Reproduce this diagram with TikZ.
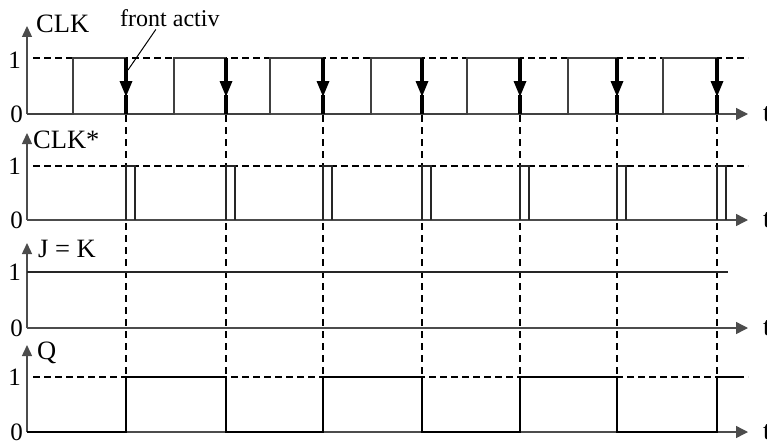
\documentclass[tikz,border=0pt]{standalone}
\usepackage{fontspec}
\setmainfont{Liberation Serif}
\usetikzlibrary{arrows.meta,calc}
\begin{document}
\begin{tikzpicture}[x=1pt,y=-1pt,
  axis/.style={line width=1.4pt, draw=black!70},
  vtip/.style={-{Triangle[length=11pt,width=10pt]}},
  htip/.style={-{Triangle[length=12pt,width=12pt]}},
  lvl/.style={dash pattern=on 7pt off 4pt, line width=2pt},
  guide/.style={dash pattern=on 7pt off 5pt, line width=2pt},
  lab/.style={font=\fontsize{26.5}{30}\selectfont, inner sep=0pt, anchor=base west},
  num/.style={font=\fontsize{25}{29}\selectfont, inner sep=0pt, anchor=east},
  wthin/.style={line width=1.5pt, draw=black!75},
  wthk/.style={line width=3.2pt, draw=black},
  edgetip/.style={-{Triangle[length=16pt,width=12pt]}},
]
\useasboundingbox (0,0) rectangle (767,444);

% guide lines at the active (falling) edges
\foreach \x in {126,226,323,422,520,617,717}
  \draw[guide] (\x,115) -- (\x,432);

% ---------- axes ----------
\foreach \top/\zero/\name in {26/114/a, 133/220/b, 243/328/c, 345/432/d}{
  \draw[axis,vtip] (27,\zero) -- (27,\top);
  \draw[axis,htip] (27,\zero) -- (748,\zero);
  \node[lab] (t\name) at (763,\zero+7) {t};
  \node[num] (z\name) at (23,\zero) {0};
}
\node[num] (o1) at (21,60) {1};
\node[num] (o2) at (21,166) {1};
\node[num] (o3) at (21,272) {1};
\node[num] (o4) at (21,377) {1};

% level-1 dashed lines
\draw[lvl] (33,58) -- (748,58);
\draw[lvl] (33,166) -- (748,166);
\draw[lvl] (33,377) -- (748,377);

% labels
\node[lab] (clk) at (36,33) {CLK};
\node[lab] (clks) at (33,148) {CLK*};
\node[lab] (jk) at (38,257) {J = K};
\node[lab] (q) at (37,359) {Q};

% ---------- CLK ----------
\draw[wthin] (27,114) -- (73,114) -- (73,58) -- (126,58);
\foreach \r/\f/\p in {174/226/126, 270/323/226, 371/422/323, 467/520/422, 568/617/520, 663/717/617}
  \draw[wthin] (\p,114) -- (\r,114) -- (\r,58) -- (\f,58);
\foreach \x in {126,226,323,422,520,617,717}{
  \draw[wthk,edgetip] (\x,58) -- (\x,97);
  \draw[wthk] (\x,95) -- (\x,114);
}

% ---------- CLK* ----------
\foreach \x in {126,226,323,422,520,617,717}
  \draw[line width=2.2pt, draw=black!85] (\x,220) -- (\x,166) -- (\x+9,166) -- (\x+9,220);

% ---------- J = K ----------
\draw[line width=2.2pt, draw=black!85] (27,272) -- (728,272);

% ---------- Q ----------
\draw[wthk, line width=2.8pt] (27,432) -- (126,432) -- (126,377) -- (226,377) -- (226,432)
  -- (323,432) -- (323,377) -- (422,377) -- (422,432) -- (520,432) -- (520,377)
  -- (617,377) -- (617,432) -- (717,432) -- (717,377) -- (740,377);

% ---------- annotation ----------
\node[lab, font=\fontsize{24}{28}\selectfont] (fa) at (120,27) {front activ};
\coordinate (faend) at (128,70);
\draw[line width=1pt] ($(fa.south)+(-14,2)$) -- (faend);
\end{tikzpicture}
\end{document}
